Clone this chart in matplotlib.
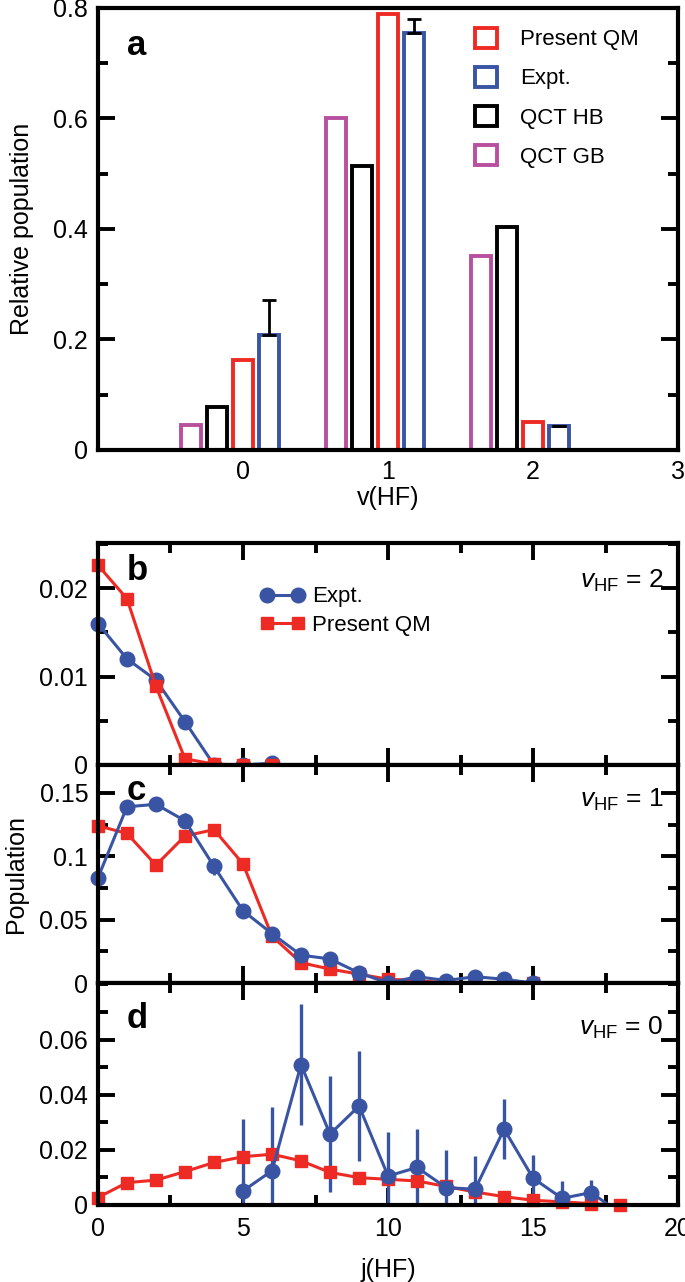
import numpy as np
import matplotlib
matplotlib.use("Agg")
import matplotlib.pyplot as plt
from matplotlib.ticker import MultipleLocator, FuncFormatter

plt.rcParams['font.family'] = ['Liberation Sans', 'DejaVu Sans']
plt.rcParams['mathtext.fontset'] = 'custom'
plt.rcParams['mathtext.rm'] = 'Liberation Sans'
plt.rcParams['mathtext.it'] = 'Liberation Sans:italic'

RED = '#EE2A24'
BLUE = '#3A54A4'
BLACK = '#000000'
MAG = '#B9509F'

# ---------------- Panel a data ----------------
v_levels = [0, 1, 2]
qm_a = [0.163, 0.788, 0.050]
expt_a = [0.208, 0.754, 0.043]
expt_a_err_up = [0.064, 0.026, 0.0]
qct_hb = [0.078, 0.513, 0.404]
qct_gb = [0.046, 0.600, 0.351]

# ---------------- Panel b (v=2) ----------------
j_b_expt = [0, 1, 2, 3, 4, 5, 6]
b_expt = [0.0160, 0.0120, 0.0096, 0.0049, 0.0000, 0.0000, 0.0002]
j_b_qm = [0, 1, 2, 3, 4, 5, 6]
b_qm = [0.0226, 0.0188, 0.0089, 0.0007, 0.0001, 0.0000, 0.0000]

# ---------------- Panel c (v=1) ----------------
j_c = list(range(16))
c_expt = [0.083, 0.139, 0.141, 0.128, 0.092, 0.057, 0.039, 0.022, 0.019,
          0.008, 0.000, 0.005, 0.002, 0.005, 0.003, 0.000]
c_expt_err = [0.003, 0.003, 0.003, 0.006, 0.007, 0.004, 0.003, 0.002, 0.002,
              0.002, 0.002, 0.002, 0.002, 0.002, 0.002, 0.001]
c_qm = [0.124, 0.118, 0.093, 0.116, 0.121, 0.094, 0.037, 0.016, 0.011,
        0.007, 0.003, 0.002, 0.000, 0.000, 0.000, 0.000]

# ---------------- Panel d (v=0) ----------------
j_d_expt = [5, 6, 7, 8, 9, 10, 11, 12, 13, 14, 15, 16, 17, 18]
d_expt = [0.0051, 0.0124, 0.0509, 0.0257, 0.0359, 0.0105, 0.0136, 0.0063,
          0.0057, 0.0275, 0.0097, 0.0024, 0.0045, -0.003]
d_expt_err = [0.026, 0.023, 0.022, 0.021, 0.020, 0.016, 0.014, 0.0137,
              0.012, 0.011, 0.0085, 0.0063, 0.0045, 0.0]
j_d_qm = list(range(19))
d_qm = [0.0027, 0.0081, 0.0090, 0.0121, 0.0154, 0.0175, 0.0184, 0.0160,
        0.0118, 0.0099, 0.0093, 0.0087, 0.0067, 0.0047, 0.0030, 0.0017,
        0.0011, 0.0005, 0.0000]

FS = 18
fig = plt.figure(figsize=(6.85, 12.82), dpi=100)

L, W = 0.143, 0.847
ax_a = fig.add_axes([L, 0.649, W, 0.345])
ax_b = fig.add_axes([L, 0.4033, W, 0.1731])
ax_c = fig.add_axes([L, 0.2332, W, 0.1701])
ax_d = fig.add_axes([L, 0.0601, W, 0.1731])

fmt = FuncFormatter(lambda v, p: '%g' % round(v, 6))

def style(ax):
    for s in ax.spines.values():
        s.set_linewidth(3.0)
        s.set_zorder(2.5)
    ax.tick_params(which='both', direction='in', top=True, right=True,
                   width=2.8, labelsize=FS, pad=7)
    ax.tick_params(which='major', length=12)
    ax.tick_params(which='minor', length=7)

# ---- a ----
x = np.array(v_levels, dtype=float)
bw = 0.135
lw_bar = 2.8
bar_gb = ax_a.bar(x - 0.36, qct_gb, bw, facecolor='white', edgecolor=MAG, linewidth=lw_bar, label='QCT GB')
bar_hb = ax_a.bar(x - 0.18, qct_hb, bw, facecolor='white', edgecolor=BLACK, linewidth=lw_bar, label='QCT HB')
bar_qm = ax_a.bar(x, qm_a, bw, facecolor='white', edgecolor=RED, linewidth=lw_bar, label='Present QM')
bar_ex = ax_a.bar(x + 0.18, expt_a, bw, facecolor='white', edgecolor=BLUE, linewidth=lw_bar, label='Expt.')
ax_a.errorbar(x + 0.18, expt_a, yerr=[np.zeros(3), expt_a_err_up], fmt='none',
              ecolor='black', elinewidth=2.0, capsize=5, capthick=2.0, zorder=1)
ax_a.set_xlim(-1, 3)
ax_a.set_ylim(0, 0.8)
style(ax_a)
ax_a.set_xticks([0, 1, 2, 3])
ax_a.tick_params(axis='x', which='both', length=0, pad=7)
ax_a.yaxis.set_major_locator(MultipleLocator(0.2))
ax_a.yaxis.set_minor_locator(MultipleLocator(0.1))
ax_a.yaxis.set_major_formatter(fmt)
ax_a.set_xlabel('v(HF)', fontsize=FS, labelpad=2)
ax_a.set_ylabel('Relative population', fontsize=FS, labelpad=14)
ax_a.text(0.05, 0.915, 'a', transform=ax_a.transAxes, fontsize=25, fontweight='bold',
          ha='left', va='center')
ax_a.legend(handles=[bar_qm, bar_ex, bar_hb, bar_gb], loc='upper left',
            bbox_to_anchor=(0.635, 0.975), frameon=False, fontsize=16,
            handlelength=1.0, handleheight=1.0, labelspacing=0.75,
            handletextpad=1.0, borderaxespad=0)

# ---- b, c, d ----
line_kw = dict(lw=2.2)
ax_b.plot(j_b_expt, b_expt, '-o', color=BLUE, ms=10.5, label='Expt.', clip_on=False, **line_kw)
ax_b.plot(j_b_qm, b_qm, '-s', color=RED, ms=9, label='Present QM', clip_on=False, **line_kw)
ax_b.set_ylim(0, 0.0251)
ax_b.yaxis.set_major_locator(MultipleLocator(0.01))
ax_b.yaxis.set_minor_locator(MultipleLocator(0.005))
ax_b.legend(loc='upper left', bbox_to_anchor=(0.265, 0.845), frameon=False,
            fontsize=16, handlelength=2.0, labelspacing=0.35, handletextpad=0.3,
            borderaxespad=0, numpoints=2)

ax_c.errorbar(j_c, c_expt, yerr=c_expt_err, fmt='-o', color=BLUE, ms=10.5,
              elinewidth=2.0, capsize=0, clip_on=False, **line_kw)
ax_c.plot(j_c, c_qm, '-s', color=RED, ms=9, clip_on=False, **line_kw)
ax_c.set_ylim(0, 0.172)
ax_c.yaxis.set_major_locator(MultipleLocator(0.05))
ax_c.yaxis.set_minor_locator(MultipleLocator(0.025))
ax_c.set_ylabel('Population', fontsize=FS, labelpad=8)

ax_d.errorbar(j_d_expt, d_expt, yerr=d_expt_err, fmt='-o', color=BLUE, ms=10.5,
              elinewidth=2.4, capsize=0, **line_kw)
ax_d.plot(j_d_qm, d_qm, '-s', color=RED, ms=9, clip_on=False, **line_kw)
ax_d.set_ylim(0, 0.0805)
ax_d.set_yticks([0, 0.02, 0.04, 0.06])
ax_d.yaxis.set_minor_locator(MultipleLocator(0.01))
ax_d.set_xlabel('j(HF)', fontsize=FS, labelpad=12)

labels = ['b', 'c', 'd']
vlabs = ['2', '1', '0']
lab_y = [0.875, 0.885, 0.84]
v_y = [0.83, 0.84, 0.80]
for ax, lab, vl, ly, vy in zip([ax_b, ax_c, ax_d], labels, vlabs, lab_y, v_y):
    ax.set_xlim(0, 20)
    style(ax)
    ax.xaxis.set_major_locator(MultipleLocator(5))
    ax.xaxis.set_minor_locator(MultipleLocator(2.5))
    ax.yaxis.set_major_formatter(fmt)
    ax.text(0.05, ly, lab, transform=ax.transAxes, fontsize=25, fontweight='bold',
            ha='left', va='center')
    ax.text(0.975, vy, r'$v_{\mathrm{HF}}$ = ' + vl, transform=ax.transAxes,
            fontsize=19, ha='right', va='center')

for ax in (ax_b, ax_c):
    ax.tick_params(axis='x', labelbottom=False)
ax_d.xaxis.set_major_formatter(fmt)
ax_d.tick_params(axis='x', pad=9)

fig.savefig('out.png', dpi=100)
